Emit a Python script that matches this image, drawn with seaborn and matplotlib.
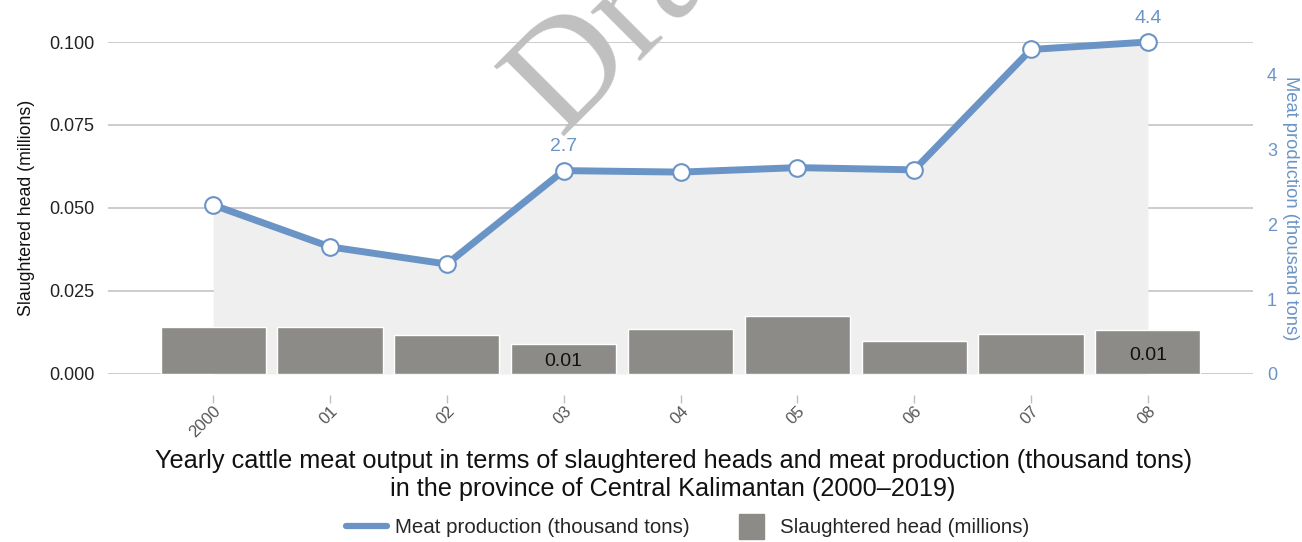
import numpy as np
import pandas as pd
import seaborn as sns
import matplotlib.pyplot as plt
from matplotlib.lines import Line2D

years = ["2000", "01", "02", "03", "04", "05", "06", "07", "08"]
slaughtered = [0.0142, 0.0142, 0.0117, 0.0090, 0.0136, 0.0175, 0.0099, 0.0120, 0.0133]
meat = [2.26, 1.70, 1.47, 2.72, 2.70, 2.76, 2.73, 4.34, 4.44]
bar_labels = {3: "0.01", 8: "0.01"}
line_labels = {3: "2.7", 8: "4.4"}

df = pd.DataFrame({"Year": years, "Slaughtered": slaughtered, "Meat": meat})

blue = "#6b94c6"
bar_grey = "#8c8b87"
grid_grey = "#c8c8c8"

sns.set_theme(style="white")
plt.rcParams["font.family"] = ["Liberation Sans", "DejaVu Sans"]

fig = plt.figure(figsize=(13.02, 5.42), dpi=100)
ax = fig.add_axes([0.083, 0.31, 0.8794, 0.6125])
ax2 = ax.twinx()

sns.barplot(data=df, x="Year", y="Slaughtered", color=bar_grey, width=0.9,
            saturation=1, ax=ax, zorder=2)
xs = np.arange(len(years))

# grey area under the meat line, drawn in ax so bars sit over it
ax.fill_between(xs, meat, 0, color="#efefef", lw=0, zorder=1, transform=ax2.transData)

sns.lineplot(x=xs, y=meat, ax=ax2, color=blue, lw=5, marker="o", markersize=12,
             markerfacecolor="white", markeredgecolor=blue, markeredgewidth=1.5,
             clip_on=False, zorder=3)

ax.set_ylim(0, 0.1)
ax2.set_ylim(0, 4.44)
ax.set_xlim(-0.9, 8.9)
ax.set_yticks([0, 0.025, 0.05, 0.075, 0.1])
ax.set_yticklabels(["0.000", "0.025", "0.050", "0.075", "0.100"])
ax2.set_yticks([0, 1, 2, 3, 4])

ax.set_axisbelow(True)
ax.yaxis.grid(True, color=grid_grey, lw=1.3, zorder=0)
for sp in ax.spines.values():
    sp.set_visible(False)
for sp in ax2.spines.values():
    sp.set_visible(False)
ax.spines["bottom"].set_position(("outward", 15))

ax.tick_params(axis="y", length=0, labelsize=13, labelcolor="#222222", pad=10)
ax2.tick_params(axis="y", length=0, labelsize=13, labelcolor=blue, pad=10)
ax.tick_params(axis="x", length=6, width=1, color="#c0c0c0", labelsize=12,
               labelcolor="#555555", bottom=True, pad=0)
plt.setp(ax.get_xticklabels(), rotation=45, ha="right", rotation_mode="anchor")

ax.set_xlabel("")
ax.set_ylabel("Slaughtered head (millions)", fontsize=12.8, color="#111111", labelpad=10)
ax2.set_ylabel("Meat production (thousand tons)", fontsize=13.2, color=blue,
               rotation=-90, labelpad=16)

for i, t in bar_labels.items():
    ax.text(i, slaughtered[i] * 0.42, t, ha="center", va="center", fontsize=14,
            color="#111111", zorder=4)
for i, t in line_labels.items():
    ax2.annotate(t, (i, meat[i]), xytext=(0, 11), textcoords="offset points",
                 ha="center", va="bottom", fontsize=14, color=blue,
                 annotation_clip=False)

fig.text(0.517, 0.1236, "Yearly cattle meat output in terms of slaughtered heads and meat production (thousand tons)\n"
         "in the province of Central Kalimantan (2000\u20132019)",
         ha="center", va="center", fontsize=18.2, color="#111111", linespacing=1.18)

handles = [Line2D([], [], color=blue, lw=4.5),
           Line2D([], [], color=bar_grey, lw=0, marker="s", markersize=18)]
fig.legend(handles, ["Meat production (thousand tons)", "Slaughtered head (millions)"],
           loc="center", bbox_to_anchor=(0.528, 0.026), ncol=2, frameon=False,
           fontsize=14.8, handlelength=2.0, handletextpad=0.4, columnspacing=2.0)

# watermark
fig.text(0.43, 0.749, "Draft", rotation=45, rotation_mode="anchor", ha="left",
         va="baseline", fontsize=109, family="Liberation Serif", color="#c0c0c0",
         zorder=10)

fig.savefig("out.png", dpi=100)
